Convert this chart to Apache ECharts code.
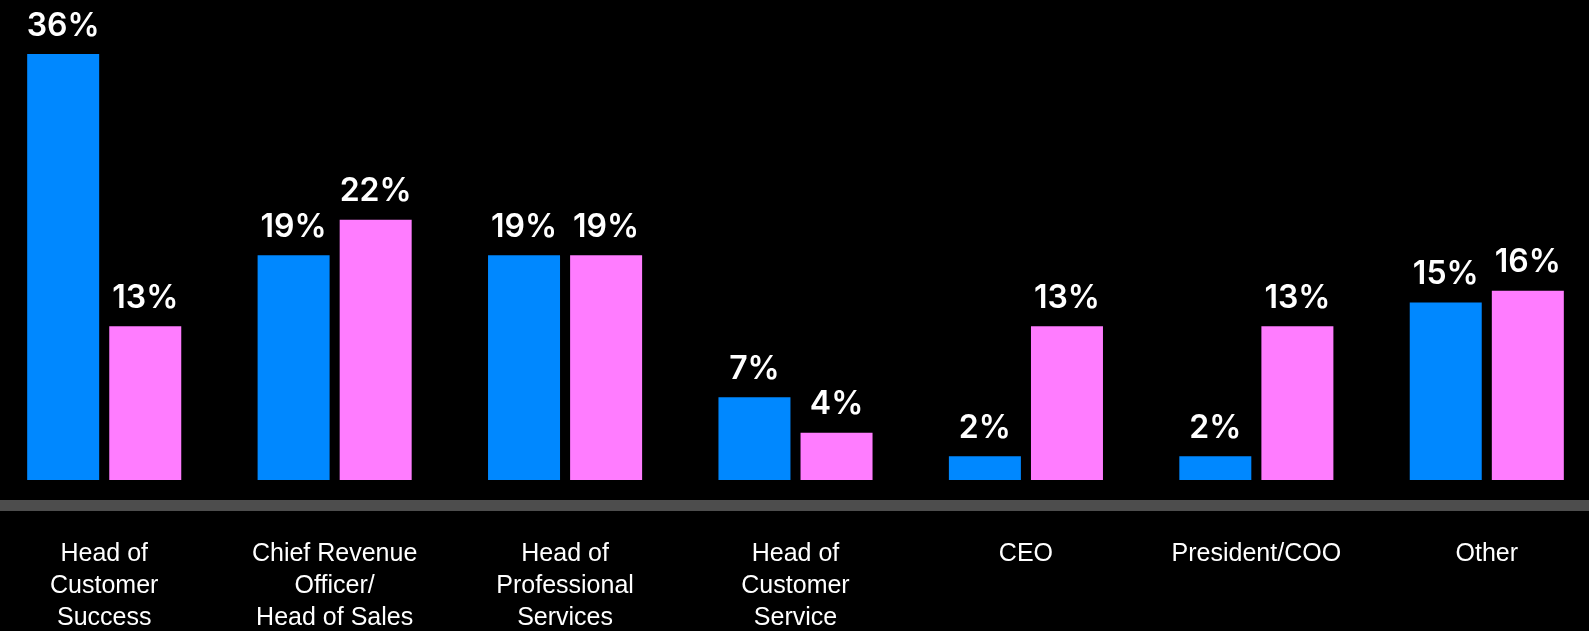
<!DOCTYPE html>
<html>
<head>
<meta charset="utf-8">
<script src="https://cdn.jsdelivr.net/npm/echarts@6/dist/echarts.min.js"></script>
<style>
  html, body { margin: 0; padding: 0; background: #000; }
  #chart { width: 1589px; height: 631px; }
</style>
</head>
<body>
<div id="chart"></div>
<script>
// Job titles (line breaks are part of the label text)
const categories = [
  'Head of\nCustomer\nSuccess',
  'Chief Revenue\nOfficer/\nHead of Sales',
  'Head of\nProfessional\nServices',
  'Head of\nCustomer\nService',
  'CEO',
  'President/COO',
  'Other'
];
// Share of respondents, percent
const blueValues = [36, 19, 19, 7, 2, 2, 15];
const pinkValues = [13, 22, 19, 4, 13, 13, 16];

const valueLabel = {
  show: true,
  position: 'top',
  distance: 12,
  formatter: '{c}%',
  color: '#ffffff',
  fontFamily: 'Inter',
  fontWeight: 600,
  fontSize: 32,
  lineHeight: 32
};

const chart = echarts.init(document.getElementById('chart'), null, { renderer: 'canvas' });
chart.setOption({
  backgroundColor: '#000000',
  animation: false,
  grid: {
    left: -11, right: -13, top: 6.7, bottom: 151,
    containLabel: false,
    outerBoundsMode: 'none'
  },
  xAxis: {
    type: 'category',
    data: categories,
    offset: 25.5,
    axisLine: { show: true, onZero: false, lineStyle: { color: '#4d4d4d', width: 11 } },
    axisTick: { show: false },
    axisLabel: {
      color: '#ffffff',
      fontFamily: 'Liberation Sans',
      fontSize: 25,
      lineHeight: 32,
      margin: 33,
      interval: 0,
      align: 'center'
    }
  },
  yAxis: {
    type: 'value',
    min: 0,
    max: 40,
    show: false,
    splitLine: { show: false }
  },
  series: [
    {
      type: 'bar',
      data: blueValues,
      barWidth: 72,
      barGap: '14%',
      itemStyle: { color: '#0088ff' },
      label: valueLabel
    },
    {
      type: 'bar',
      data: pinkValues,
      barWidth: 72,
      itemStyle: { color: '#ff7cff' },
      label: valueLabel
    }
  ]
});
</script>
</body>
</html>
